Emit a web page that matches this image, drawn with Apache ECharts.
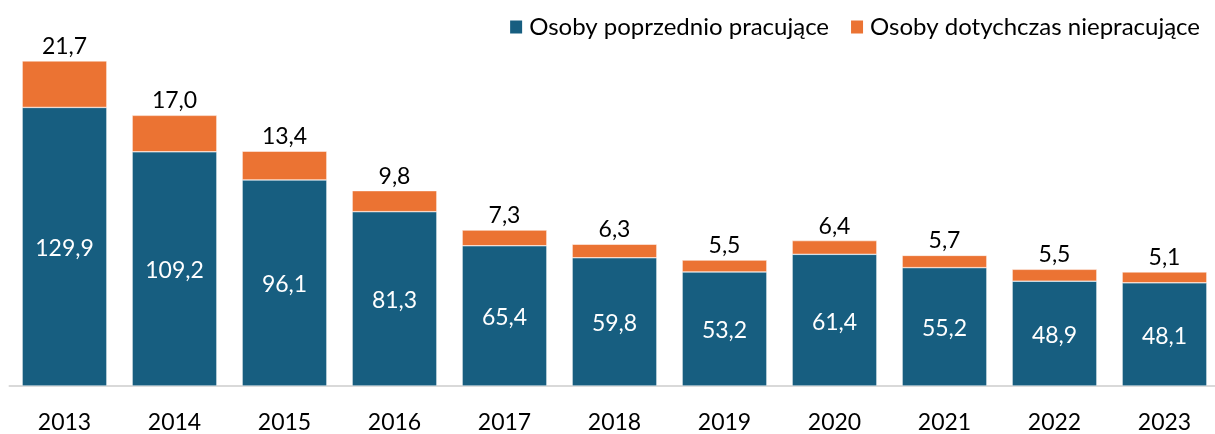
<!DOCTYPE html>
<html>
<head>
<meta charset="utf-8">
<script src="https://cdn.jsdelivr.net/npm/echarts@6/dist/echarts.min.js"></script>
<style>
  html, body { margin: 0; padding: 0; background: #fff; overflow: hidden; width: 1215px; height: 434px; }
  #chart { width: 1220px; height: 434px; }
</style>
</head>
<body>
<div id="chart"></div>
<script>
const years = ['2013', '2014', '2015', '2016', '2017', '2018', '2019', '2020', '2021', '2022', '2023'];
const previouslyWorking = [129.9, 109.2, 96.1, 81.3, 65.4, 59.8, 53.2, 61.4, 55.2, 48.9, 48.1];
const neverWorked = [21.7, 17.0, 13.4, 9.8, 7.3, 6.3, 5.5, 6.4, 5.7, 5.5, 5.1];

const fontFamily = 'Lato, "Open Sans", sans-serif';
const fmt = p => p.value.toFixed(1).replace('.', ',');

const chart = echarts.init(document.getElementById('chart'));
chart.setOption({
  animation: false,
  backgroundColor: '#fff',
  textStyle: { fontFamily },
  legend: {
    top: 10,
    right: 15,
    itemWidth: 14,
    itemHeight: 15,
    itemGap: 20,
    icon: 'rect',
    textStyle: { fontSize: 24, color: '#000', fontFamily, padding: [0, 0, 0, 1] },
    data: ['Osoby poprzednio pracujące', 'Osoby dotychczas niepracujące']
  },
  grid: { left: 9.5, right: 0.5, top: 0, bottom: 48, containLabel: false },
  xAxis: {
    type: 'category',
    data: years,
    axisLine: { lineStyle: { color: '#d9d9d9', width: 2 } },
    axisTick: { show: false },
    axisLabel: { fontSize: 23, color: '#000', margin: 25, fontFamily }
  },
  yAxis: {
    type: 'value',
    min: 0,
    max: 180,
    show: false,
    splitLine: { show: false }
  },
  series: [
    {
      name: 'Osoby poprzednio pracujące',
      type: 'bar',
      stack: 'total',
      barCategoryGap: '23%',
      data: previouslyWorking,
      itemStyle: { color: '#175e80', borderColor: '#fff', borderWidth: 0.5 },
      label: { show: true, position: 'inside', offset: [0, 2], color: '#fff', fontSize: 23, fontFamily, formatter: fmt }
    },
    {
      name: 'Osoby dotychczas niepracujące',
      type: 'bar',
      stack: 'total',
      data: neverWorked,
      itemStyle: { color: '#eb7333', borderColor: '#fff', borderWidth: 0.5 },
      label: { show: true, position: 'top', distance: 3, color: '#000', fontSize: 23, fontFamily, formatter: fmt }
    }
  ]
});
</script>
</body>
</html>
